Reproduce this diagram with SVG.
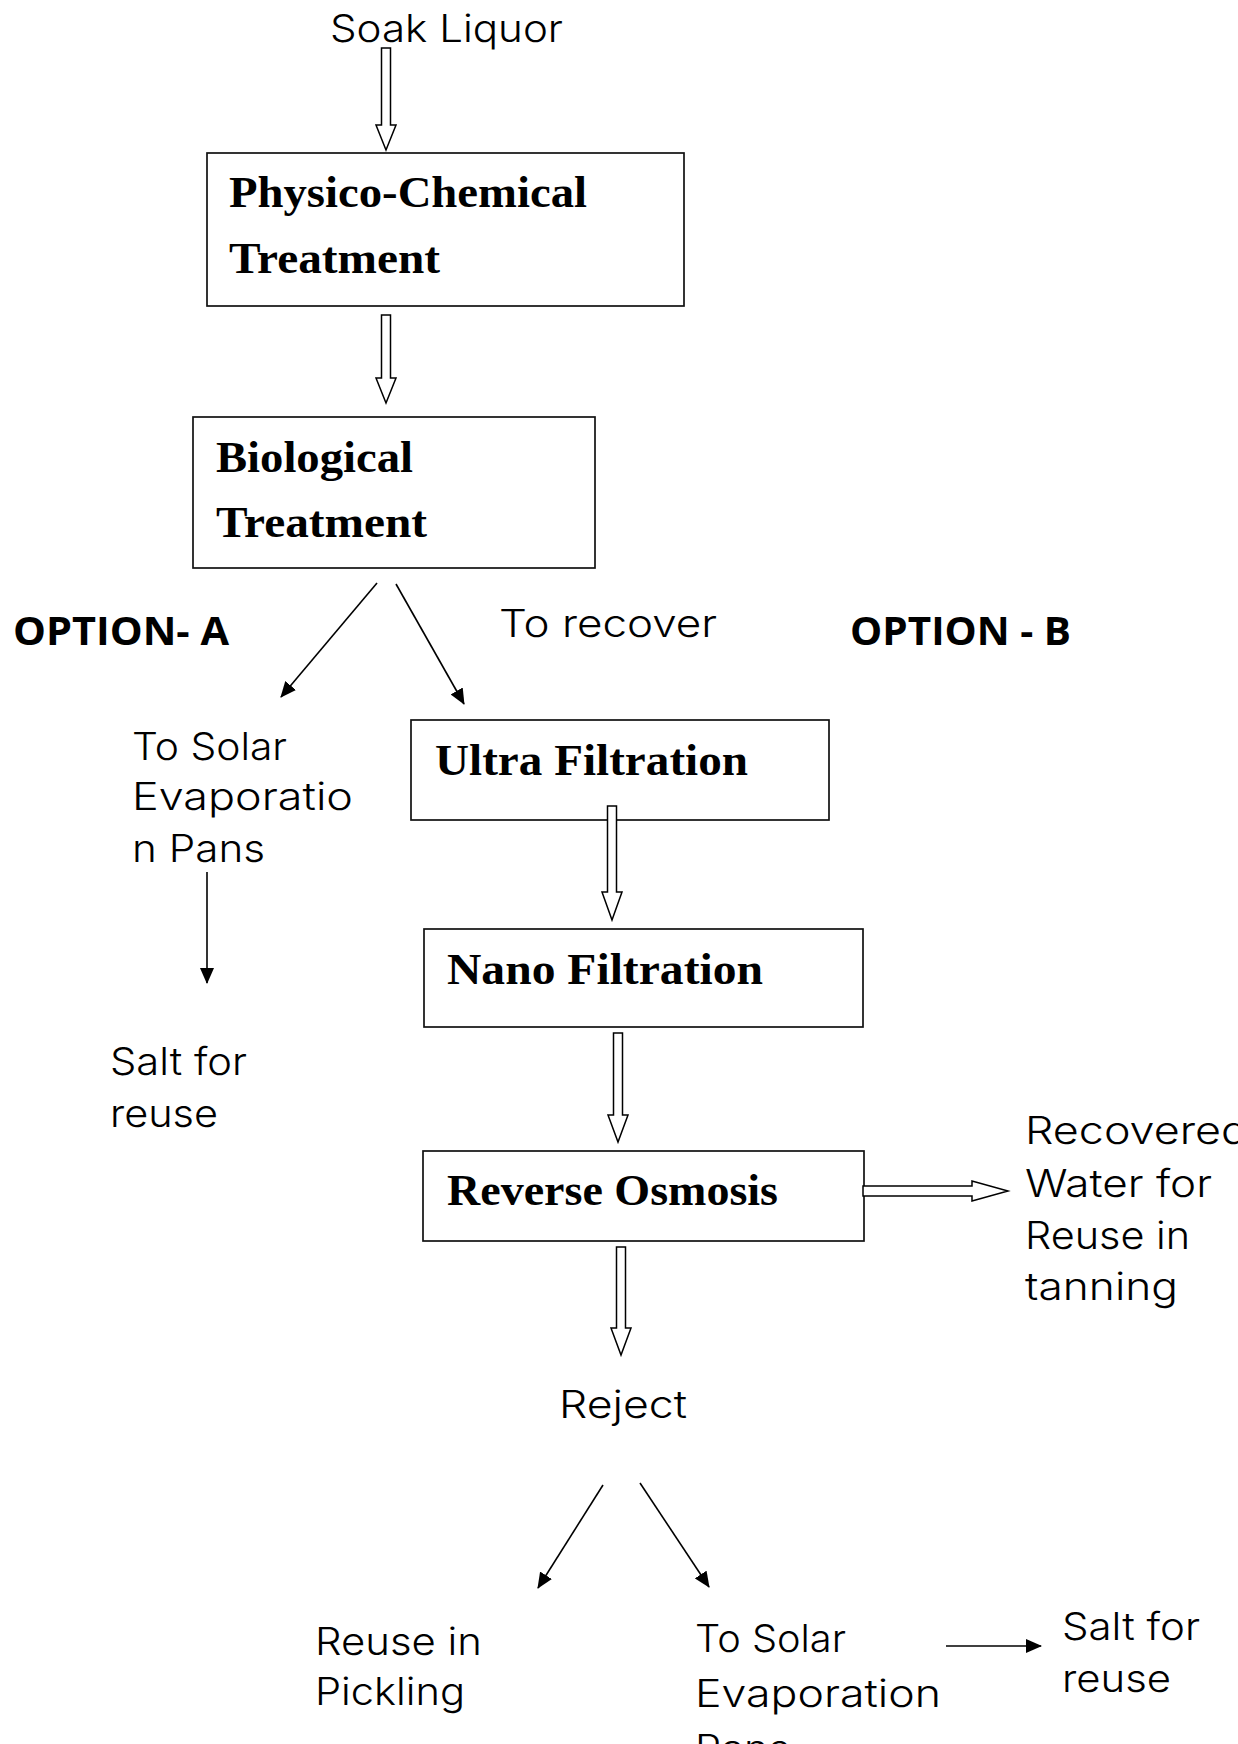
<svg xmlns="http://www.w3.org/2000/svg" width="1238" height="1744" viewBox="0 0 1238 1744">
<style>
.box{fill:#fff;stroke:#111;stroke-width:1.7}
.serif{font-family:"Liberation Serif","Times New Roman",serif;font-weight:bold;font-size:44px;fill:#000}
.sans{font-family:"Inter","DejaVu Sans","Liberation Sans",sans-serif;font-weight:300;font-size:38px;fill:#000}
.bold{font-family:"Open Sans","Liberation Sans",sans-serif;font-weight:bold;font-size:39px;fill:#000}
.dbl{fill:#fff;stroke:#000;stroke-width:1.5;stroke-linejoin:miter}
.ln{stroke:#000;stroke-width:1.6;fill:none;marker-end:url(#ah)}
</style>
<defs>
<marker id="ah" viewBox="0 0 16 14" refX="15" refY="7" markerWidth="16" markerHeight="14" markerUnits="userSpaceOnUse" orient="auto">
<path d="M0,0 L16,7 L0,14 z" fill="#000"/>
</marker>
<clipPath id="clipPick"><rect x="0" y="0" width="1238" height="1714"/></clipPath>
</defs>
<rect width="1238" height="1744" fill="#fff"/>

<g id="soak-liquor"><text class="sans" x="330" y="42" font-size="40" textLength="233" lengthAdjust="spacingAndGlyphs">Soak Liquor</text></g>

<g id="physico-chemical">
<rect class="box" x="207" y="153" width="477" height="153"/>
<text class="serif" x="229" y="207" textLength="358" lengthAdjust="spacingAndGlyphs">Physico-Chemical</text>
<text class="serif" x="229" y="273" textLength="211" lengthAdjust="spacingAndGlyphs">Treatment</text>
</g>

<g id="biological">
<rect class="box" x="193" y="417" width="402" height="151"/>
<text class="serif" x="216" y="472" textLength="197" lengthAdjust="spacingAndGlyphs">Biological</text>
<text class="serif" x="216" y="537" textLength="211" lengthAdjust="spacingAndGlyphs">Treatment</text>
</g>

<g id="option-a"><text class="bold" x="13" y="645" textLength="216" lengthAdjust="spacingAndGlyphs">OPTION- A</text></g>
<g id="to-recover"><text class="sans" x="499" y="637" textLength="218" lengthAdjust="spacingAndGlyphs">To recover</text></g>
<g id="option-b"><text class="bold" x="850" y="645" textLength="221" lengthAdjust="spacingAndGlyphs">OPTION - B</text></g>

<g id="solar-pans-a">
<text class="sans" x="132" y="760" textLength="155" lengthAdjust="spacingAndGlyphs">To Solar</text>
<text class="sans" x="132" y="810" textLength="221" lengthAdjust="spacingAndGlyphs">Evaporatio</text>
<text class="sans" x="132" y="862" textLength="133" lengthAdjust="spacingAndGlyphs">n Pans</text>
</g>

<g id="salt-a">
<text class="sans" x="110" y="1075" textLength="137" lengthAdjust="spacingAndGlyphs">Salt for</text>
<text class="sans" x="110" y="1127" textLength="108" lengthAdjust="spacingAndGlyphs">reuse</text>
</g>

<g id="ultra-filtration">
<rect class="box" x="411" y="720" width="418" height="100"/>
<text class="serif" x="435" y="775" textLength="313" lengthAdjust="spacingAndGlyphs">Ultra Filtration</text>
</g>

<g id="nano-filtration">
<rect class="box" x="424" y="929" width="439" height="98"/>
<text class="serif" x="447" y="984" textLength="316" lengthAdjust="spacingAndGlyphs">Nano Filtration</text>
</g>

<g id="reverse-osmosis">
<rect class="box" x="423" y="1151" width="441" height="90"/>
<text class="serif" x="447" y="1205" textLength="331" lengthAdjust="spacingAndGlyphs">Reverse Osmosis</text>
</g>

<g id="recovered-water">
<text class="sans" x="1025" y="1144" font-size="37" textLength="223" lengthAdjust="spacingAndGlyphs">Recovered</text>
<text class="sans" x="1025" y="1197" font-size="37" textLength="187" lengthAdjust="spacingAndGlyphs">Water for</text>
<text class="sans" x="1025" y="1249" font-size="37" textLength="165" lengthAdjust="spacingAndGlyphs">Reuse in</text>
<text class="sans" x="1025" y="1300" font-size="37" textLength="153" lengthAdjust="spacingAndGlyphs">tanning</text>
</g>

<g id="reject"><text class="sans" x="559" y="1418" font-size="40" textLength="128" lengthAdjust="spacingAndGlyphs">Reject</text></g>

<g id="reuse-pickling" clip-path="url(#clipPick)">
<text class="sans" x="315" y="1655" font-size="40" textLength="167" lengthAdjust="spacingAndGlyphs">Reuse in</text>
<text class="sans" x="315" y="1705" font-size="40" textLength="150" lengthAdjust="spacingAndGlyphs">Pickling</text>
</g>

<g id="solar-pans-b">
<text class="sans" x="695" y="1652" font-size="40" textLength="151" lengthAdjust="spacingAndGlyphs">To Solar</text>
<text class="sans" x="695" y="1707" font-size="40" textLength="246" lengthAdjust="spacingAndGlyphs">Evaporation</text>
<text class="sans" x="695" y="1762" font-size="40" textLength="95" lengthAdjust="spacingAndGlyphs">Pans</text>
</g>

<g id="salt-b">
<text class="sans" x="1062" y="1640" font-size="40" textLength="138" lengthAdjust="spacingAndGlyphs">Salt for</text>
<text class="sans" x="1062" y="1692" font-size="40" textLength="109" lengthAdjust="spacingAndGlyphs">reuse</text>
</g>

<g id="connectors">
<polygon class="dbl" points="381.5,48 390.5,48 390.5,125 396,125 386,150 376,125 381.5,125"/>
<polygon class="dbl" points="381.5,315 390.5,315 390.5,378 396,378 386,403 376,378 381.5,378"/>
<polygon class="dbl" points="607.5,806 616.5,806 616.5,892 622,892 612,920 602,892 607.5,892"/>
<polygon class="dbl" points="613.5,1033 622.5,1033 622.5,1115 628,1115 618,1142 608,1115 613.5,1115"/>
<polygon class="dbl" points="616.5,1247 625.5,1247 625.5,1328 631,1328 621,1355 611,1328 616.5,1328"/>
<polygon class="dbl" points="863,1186 972,1186 972,1181 1008,1191 972,1201 972,1196 863,1196"/>
<line class="ln" x1="377" y1="583" x2="281" y2="697"/>
<line class="ln" x1="396" y1="584" x2="464" y2="704"/>
<line class="ln" x1="207" y1="872" x2="207" y2="983"/>
<line class="ln" x1="603" y1="1485" x2="538" y2="1588"/>
<line class="ln" x1="640" y1="1483" x2="709" y2="1587"/>
<line class="ln" x1="946" y1="1646" x2="1041" y2="1646"/>
</g>
</svg>
